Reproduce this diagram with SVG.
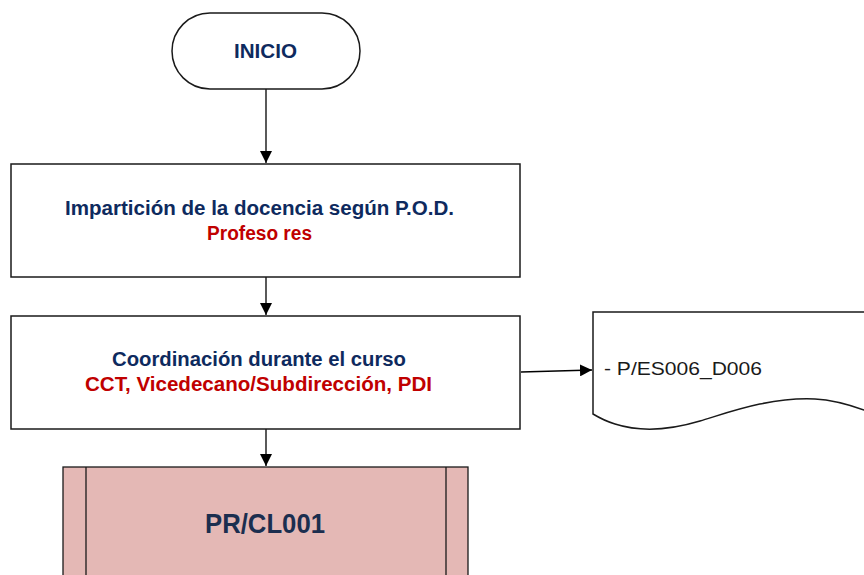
<svg xmlns="http://www.w3.org/2000/svg" width="864" height="575" viewBox="0 0 864 575">
<defs>
<marker id="arr" viewBox="0 0 10 10" refX="10" refY="5" markerWidth="12" markerHeight="12" markerUnits="userSpaceOnUse" orient="auto">
<path d="M0,0 L10,5 L0,10 Z" fill="#000"/>
</marker>
</defs>
<style>
.shape{fill:#fff;stroke:#1a1a1a;stroke-width:1.5}
.conn{stroke:#000;stroke-width:1.3;fill:none;marker-end:url(#arr)}
.t{font-family:"Liberation Sans",Arial,sans-serif;font-weight:bold;text-anchor:middle}
.navy{fill:#0E2A5E}
.red{fill:#C00000}
</style>
<g id="connectors">
<line class="conn" x1="266" y1="89" x2="266" y2="163"/>
<line class="conn" x1="266" y1="277" x2="266" y2="315"/>
<line class="conn" x1="266" y1="429" x2="266" y2="466"/>
<line class="conn" x1="521" y1="372" x2="592" y2="370"/>
</g>
<g id="inicio">
<rect class="shape" x="172" y="13" width="188" height="76" rx="38" ry="38"/>
<text class="t navy" x="265.5" y="58" font-size="20" textLength="63" lengthAdjust="spacingAndGlyphs">INICIO</text>
</g>
<g id="imparticion">
<rect class="shape" x="11" y="164" width="509" height="113"/>
<text class="t navy" x="259.5" y="215" font-size="20" textLength="389" lengthAdjust="spacingAndGlyphs">Impartición de la docencia según P.O.D.</text>
<text class="t red" x="259.5" y="240" font-size="20" textLength="105" lengthAdjust="spacingAndGlyphs">Profeso res</text>
</g>
<g id="coordinacion">
<rect class="shape" x="11" y="316" width="509" height="113"/>
<text class="t navy" x="259" y="366" font-size="20" textLength="294" lengthAdjust="spacingAndGlyphs">Coordinación  durante el curso</text>
<text class="t red" x="258.5" y="391" font-size="20" textLength="347" lengthAdjust="spacingAndGlyphs">CCT, Vicedecano/Subdirección,  PDI</text>
</g>
<g id="documento">
<path class="shape" d="M593,414 L593,312 L870,312 L870,412 L864,410 C850,405 835,400 815,399 C770,397 730,412 700,421 C670,430 640,432 615,424 C605,421 598,417 593,414 Z"/>
<text x="604" y="375" font-family="'Liberation Sans',Arial,sans-serif" font-size="18" fill="#1a1a1a" textLength="158" lengthAdjust="spacingAndGlyphs">- P/ES006_D006</text>
</g>
<g id="prcl001">
<rect x="63" y="467" width="405" height="120" fill="#E4B8B5" stroke="#1a1a1a" stroke-width="1.3"/>
<line x1="86" y1="467" x2="86" y2="587" stroke="#1a1a1a" stroke-width="1.3"/>
<line x1="446" y1="467" x2="446" y2="587" stroke="#1a1a1a" stroke-width="1.3"/>
<text class="t" x="265" y="533" font-size="28" fill="#1B2E4F" textLength="120" lengthAdjust="spacingAndGlyphs">PR/CL001</text>
</g>
</svg>
